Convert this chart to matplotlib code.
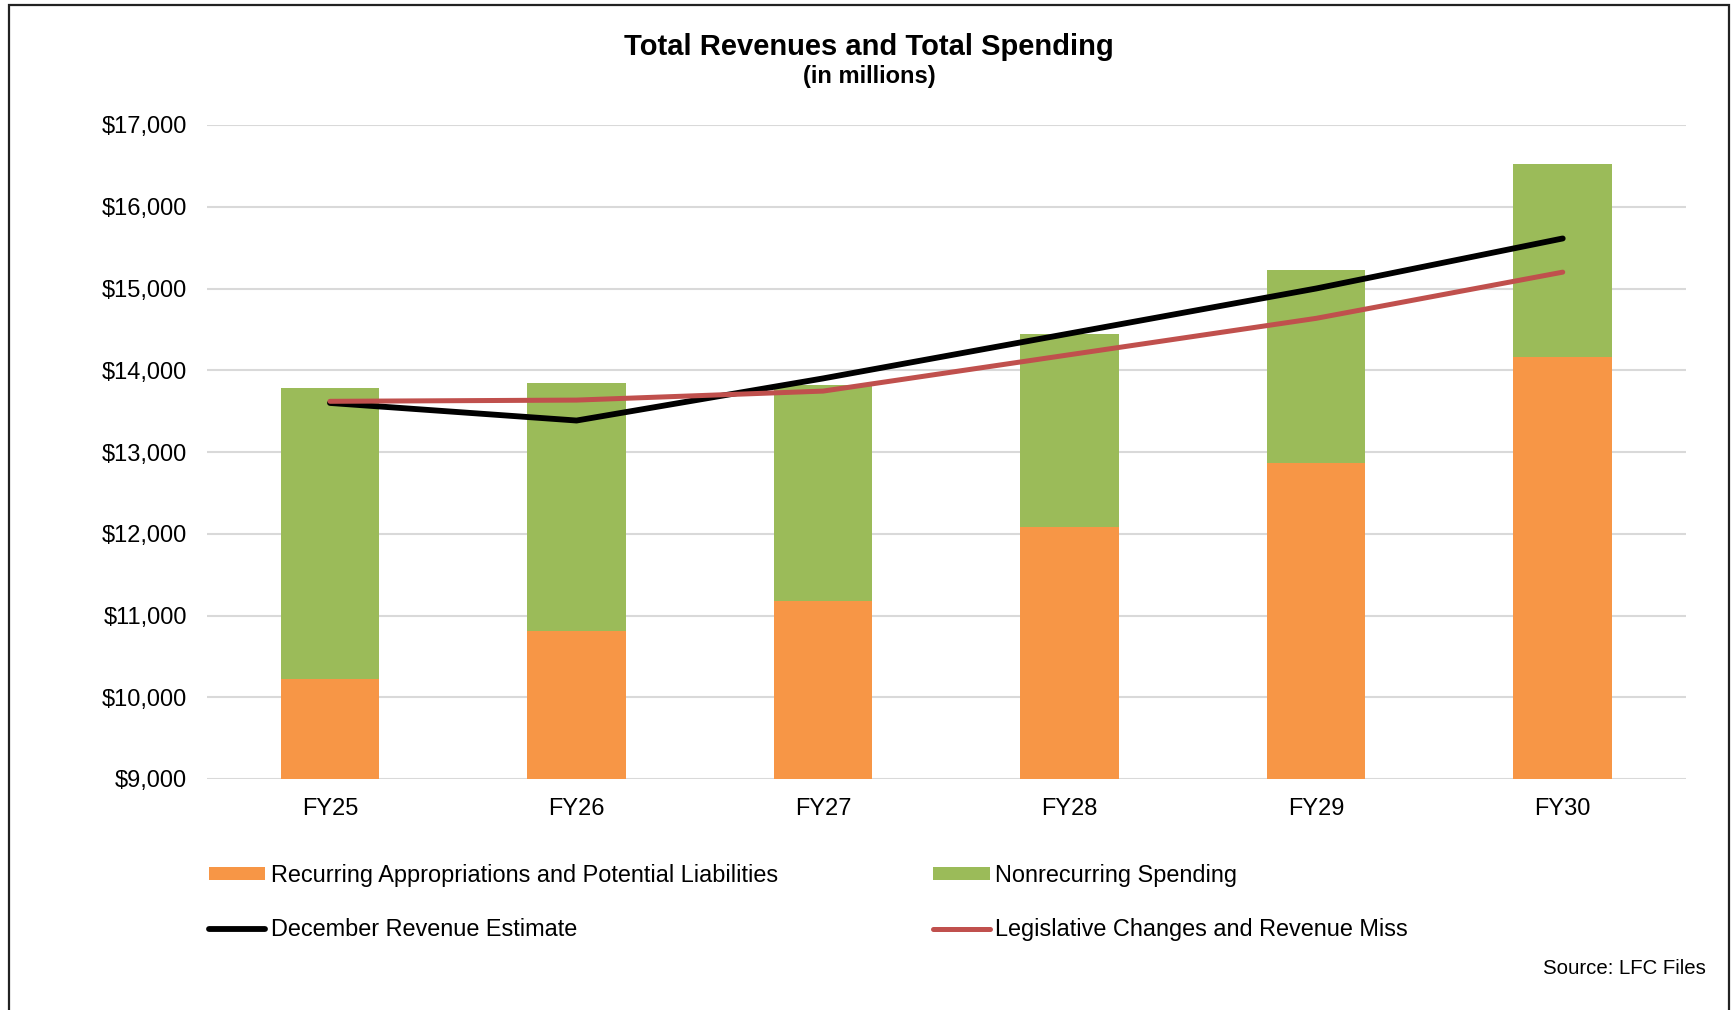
import matplotlib
matplotlib.use("Agg")
import matplotlib.pyplot as plt
from matplotlib.patches import Rectangle
from matplotlib.ticker import FuncFormatter
import numpy as np

categories = ["FY25", "FY26", "FY27", "FY28", "FY29", "FY30"]
recurring = [10220, 10815, 11175, 12085, 12860, 14165]
total_spending = [13778, 13846, 13816, 14442, 15222, 16527]
nonrecurring = [t - r for t, r in zip(total_spending, recurring)]
december_estimate = [13600, 13385, 13900, 14450, 15000, 15612]
legislative_changes = [13620, 13635, 13745, 14190, 14635, 15200]

plt.rcParams['font.family'] = ['Liberation Sans', 'DejaVu Sans']

ORANGE = "#F79646"
GREEN = "#9BBB59"
RED = "#C0504D"

fig = plt.figure(figsize=(17.35, 10.10), dpi=100)
W, H = 1735, 1010
ax = fig.add_axes([206.7 / W, 1 - 779 / H, (1686 - 206.7) / W, (779 - 125) / H])

x = np.arange(len(categories))
bw = 0.4
b1 = ax.bar(x, recurring, bw, color=ORANGE, zorder=2)
b2 = ax.bar(x, nonrecurring, bw, bottom=recurring, color=GREEN, zorder=2)
l1, = ax.plot(x, december_estimate, color="black", lw=4.2, solid_capstyle="round",
              solid_joinstyle="round", zorder=3)
l2, = ax.plot(x, legislative_changes, color=RED, lw=3.6, solid_capstyle="round",
              solid_joinstyle="round", zorder=4)

ax.set_ylim(9000, 17000)
ax.set_xlim(-0.5, 5.5)
ax.set_yticks(np.arange(9000, 17001, 1000))
ax.yaxis.set_major_formatter(FuncFormatter(lambda v, p: f"${v:,.0f}"))
ax.set_xticks(x)
ax.set_xticklabels(categories)
ax.tick_params(axis="both", length=0, labelsize=17, colors="black")
ax.tick_params(axis="y", pad=14)
ax.tick_params(axis="x", pad=14)
ax.grid(axis="y", color="#D9D9D9", lw=1.5, zorder=0)
ax.set_axisbelow(True)
for s in ax.spines.values():
    s.set_visible(False)

fig.text(869 / W, 1 - 47 / H, "Total Revenues and Total Spending", ha="center", va="center",
         fontsize=21, fontweight="bold")
fig.text(869 / W, 1 - 77 / H, "(in millions)", ha="center", va="center",
         fontsize=17, fontweight="bold")

handles = [b1, l1, b2, l2]
labels = ["Recurring Appropriations and Potential Liabilities", "December Revenue Estimate",
          "Nonrecurring Spending", "Legislative Changes and Revenue Miss"]
leg = fig.legend(handles, labels, ncol=2, loc="upper left",
                 bbox_to_anchor=(209 / W, 1 - 864 / H), frameon=False,
                 fontsize=16.9, handlelength=2.4, handletextpad=0.25, columnspacing=6.6,
                 labelspacing=1.33, handleheight=0.47, borderpad=0, borderaxespad=0)

fig.text(1706 / W, 1 - 968 / H, "Source: LFC Files", ha="right", va="center", fontsize=14.7)

fig.patches.append(Rectangle((9 / W, -0.05), (1729 - 9) / W, 1.05 - 5 / H,
                             transform=fig.transFigure, fill=False, edgecolor="#222222", lw=1.6))

fig.savefig("out.png", dpi=100, facecolor="white")
